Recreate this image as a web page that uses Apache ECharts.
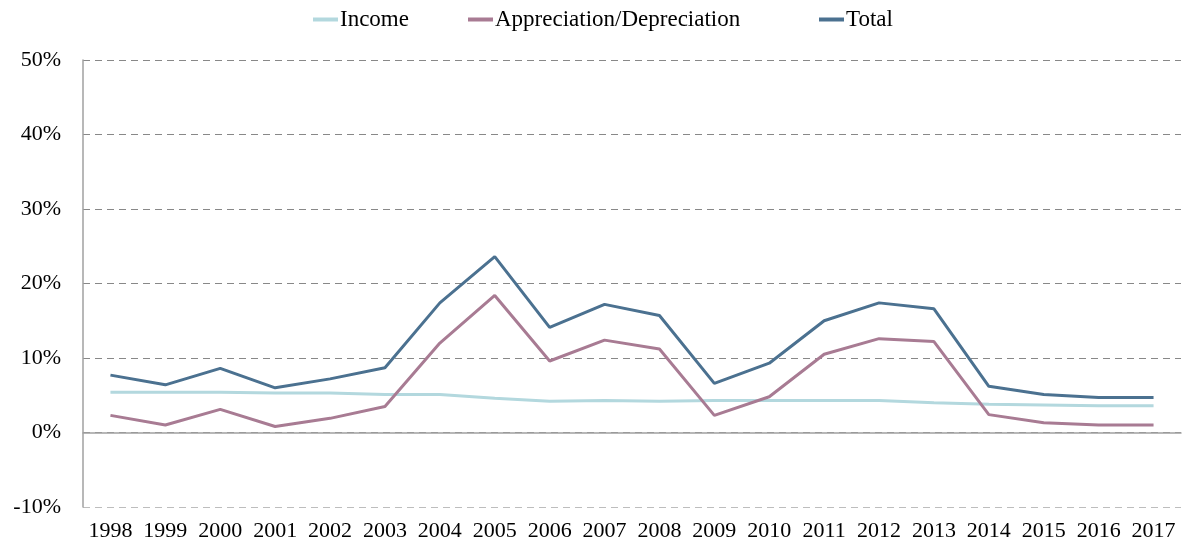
<!DOCTYPE html>
<html>
<head>
<meta charset="utf-8">
<script src="https://cdn.jsdelivr.net/npm/echarts@6/dist/echarts.min.js"></script>
<style>
  html, body { margin: 0; padding: 0; background: #fff; }
  #chart { width: 1184px; height: 548px; }
</style>
</head>
<body>
<div id="chart"></div>
<script>
  // years on the x axis
  var years = ['1998', '1999', '2000', '2001', '2002', '2003', '2004', '2005', '2006', '2007',
               '2008', '2009', '2010', '2011', '2012', '2013', '2014', '2015', '2016', '2017'];

  // returns in %
  var income = [5.4, 5.4, 5.4, 5.3, 5.3, 5.1, 5.1, 4.6, 4.2, 4.3,
                4.2, 4.3, 4.3, 4.3, 4.3, 4.0, 3.8, 3.7, 3.6, 3.6];
  var appreciation = [2.3, 1.0, 3.1, 0.8, 1.9, 3.5, 12.0, 18.4, 9.6, 12.4,
                      11.2, 2.3, 4.8, 10.5, 12.6, 12.2, 2.4, 1.3, 1.0, 1.0];
  var total = [7.7, 6.4, 8.6, 6.0, 7.2, 8.7, 17.4, 23.6, 14.1, 17.2,
               15.7, 6.6, 9.3, 15.0, 17.4, 16.6, 6.2, 5.1, 4.7, 4.7];

  var seriesNames = ['Income', 'Appreciation/Depreciation', 'Total'];

  var chart = echarts.init(document.getElementById('chart'));
  var font = '"Liberation Serif", "DejaVu Serif", serif';

  // one legend per item so each sits where the original puts it
  var legendLeft = [308, 463, 814];
  var legends = seriesNames.map(function (name, i) {
    return {
      top: 3,
      left: legendLeft[i],
      itemWidth: 25,
      itemHeight: 4,
      icon: 'rect',
      textStyle: { fontFamily: font, fontSize: 23, color: '#000', padding: [0, 0, 0, -3] },
      data: [name]
    };
  });

  chart.setOption({
    animation: false,
    textStyle: { fontFamily: font },
    color: ['#b3d8de', '#a87b93', '#4b7190'],
    legend: legends,
    grid: {
      left: 83,
      right: 3,
      top: 60,
      bottom: 41,
      containLabel: false
    },
    xAxis: {
      type: 'category',
      data: years,
      boundaryGap: true,
      axisLine: { show: true, onZero: true, lineStyle: { color: '#a0a0a0', width: 1.5 } },
      axisTick: { show: false },
      axisLabel: { color: '#000', fontSize: 22, fontFamily: font, margin: 13, interval: 0 }
    },
    yAxis: {
      type: 'value',
      min: -10,
      max: 50,
      interval: 10,
      axisLine: { show: true, lineStyle: { color: '#a0a0a0', width: 1.5 } },
      axisTick: { show: false },
      axisLabel: { color: '#000', fontSize: 22, fontFamily: font, margin: 22, formatter: '{value}%' },
      splitLine: {
        show: true,
        lineStyle: {
          color: ['#bdbdbd', '#888', '#888', '#888', '#888', '#888', '#888'],
          type: [7, 5],
          width: 1.2
        }
      }
    },
    series: [
      {
        name: seriesNames[0],
        type: 'line',
        data: income,
        symbol: 'none',
        lineStyle: { width: 3 }
      },
      {
        name: seriesNames[1],
        type: 'line',
        data: appreciation,
        symbol: 'none',
        lineStyle: { width: 3 }
      },
      {
        name: seriesNames[2],
        type: 'line',
        data: total,
        symbol: 'none',
        lineStyle: { width: 3 }
      }
    ]
  });
</script>
</body>
</html>
